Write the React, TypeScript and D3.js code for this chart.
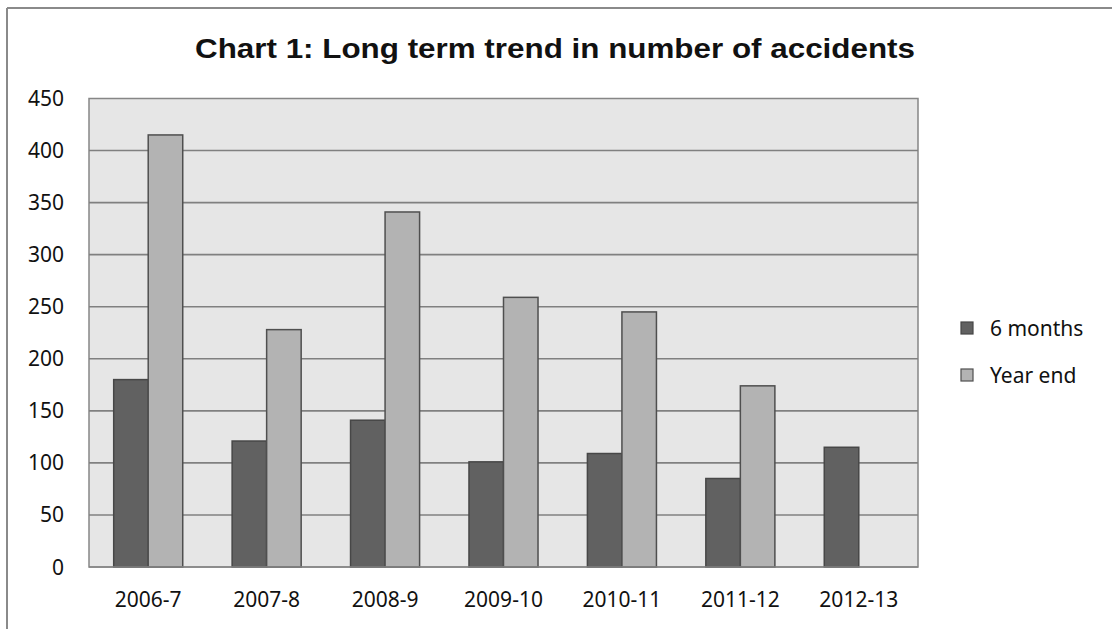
import React from "react";
import * as d3 from "d3";

const categories = ["2006-7", "2007-8", "2008-9", "2009-10", "2010-11", "2011-12", "2012-13"];
const sixMonths = [180, 121, 141, 101, 109, 85, 115];
const yearEnd: (number | null)[] = [415, 228, 341, 259, 245, 174, null];
const seriesNames = ["6 months", "Year end"];
const yTicks = [0, 50, 100, 150, 200, 250, 300, 350, 400, 450];
const title = "Chart 1: Long term trend in number of accidents";

const W = 1112;
const H = 629;
const plot = { left: 89, right: 918, top: 98.5, bottom: 567 };
const fills = ["#616161", "#b3b3b3"];
const strokes = ["#474747", "#4f4f4f"];
const labelFont = "'Noto Sans', 'Open Sans', sans-serif";

export default function App() {
  const x0 = d3
    .scaleBand<string>()
    .domain(categories)
    .range([plot.left, plot.right])
    .paddingInner(0.417)
    .paddingOuter(0.2085);
  const x1 = d3.scaleBand<string>().domain(seriesNames).range([0, x0.bandwidth()]);
  const y = d3.scaleLinear().domain([0, 450]).range([plot.bottom, plot.top]);
  const series = [sixMonths, yearEnd];

  return (
    <div style={{ position: "absolute", left: 0, top: 0, width: W, height: H, background: "#fff" }}>
      <svg width={W} height={H} style={{ display: "block" }}>
        <rect x={0} y={0} width={W} height={H} fill="#ffffff" />
        {/* outer chart border */}
        <line x1={7} y1={8} x2={W} y2={8} stroke="#8a8a8a" strokeWidth={2} />
        <line x1={7} y1={8} x2={7} y2={H} stroke="#8a8a8a" strokeWidth={2} />
        <text
          x={555}
          y={58}
          textAnchor="middle"
          fontFamily="'Liberation Sans', Arial, sans-serif"
          fontWeight="bold"
          fontSize={27}
          fill="#111"
          textLength={720}
          lengthAdjust="spacingAndGlyphs"
        >
          {title}
        </text>
        {/* plot background */}
        <rect
          x={plot.left}
          y={plot.top}
          width={plot.right - plot.left}
          height={plot.bottom - plot.top}
          fill="#e6e6e6"
          stroke="#868686"
          strokeWidth={1.5}
        />
        {yTicks.map((t) => (
          <g key={t}>
            {t > 0 && t < 450 && (
              <line x1={plot.left} x2={plot.right} y1={y(t)} y2={y(t)} stroke="#808080" strokeWidth={1.6} />
            )}
            <text
              x={64}
              y={y(t) + 7.5}
              textAnchor="end"
              fontFamily={labelFont}
              fontSize={21}
              fill="#111"
            >
              {t}
            </text>
          </g>
        ))}
        {categories.map((c, i) => (
          <g key={c}>
            {series.map((s, k) => {
              const v = s[i];
              if (v == null) return null;
              const bx = (x0(c) as number) + (x1(seriesNames[k]) as number);
              return (
                <rect
                  key={k}
                  x={bx}
                  y={y(v)}
                  width={x1.bandwidth()}
                  height={y(0) - y(v)}
                  fill={fills[k]}
                  stroke={strokes[k]}
                  strokeWidth={1.5}
                />
              );
            })}
            <text
              x={(x0(c) as number) + x0.bandwidth() / 2}
              y={607}
              textAnchor="middle"
              fontFamily={labelFont}
              fontSize={21}
              fill="#111"
            >
              {c}
            </text>
          </g>
        ))}
        <line x1={plot.left} x2={plot.right} y1={plot.bottom} y2={plot.bottom} stroke="#868686" strokeWidth={1.5} />
        {seriesNames.map((n, k) => (
          <g key={n} transform={`translate(961, ${328 + k * 47})`}>
            <rect x={0} y={-6} width={12} height={12} fill={fills[k]} stroke={strokes[k]} strokeWidth={1.2} />
            <text x={29} y={7.5} fontFamily={labelFont} fontSize={21} fill="#111">
              {n}
            </text>
          </g>
        ))}
      </svg>
    </div>
  );
}
